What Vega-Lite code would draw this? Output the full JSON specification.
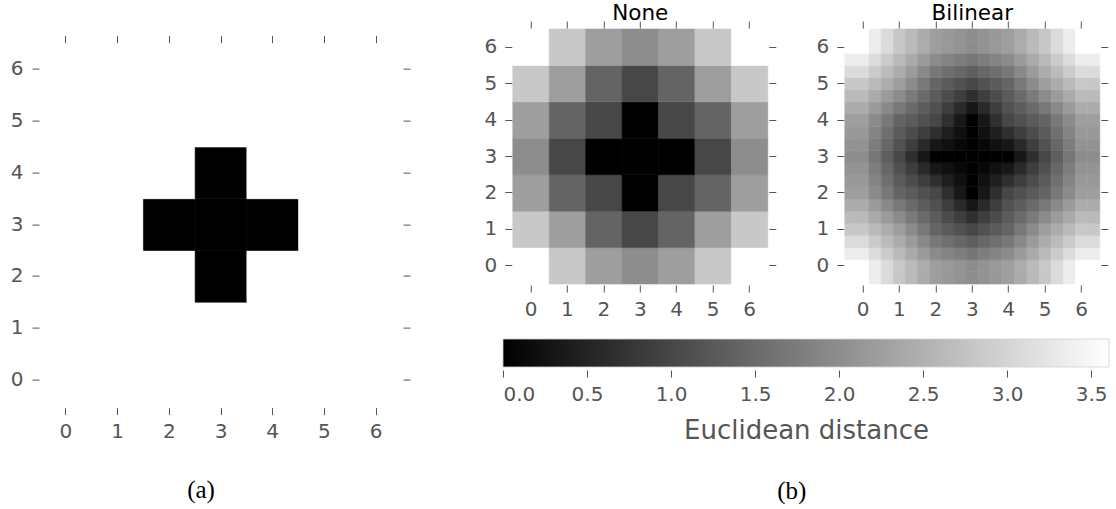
{
"$schema": "https://vega.github.io/schema/vega-lite/v6.json",
"padding": {"left": 10, "top": 3, "right": 0, "bottom": 0},
"datasets": {
"grid": [
{"x":0,"y":0,"on":0,"d":3.606},{"x":1,"y":0,"on":0,"d":2.828},{"x":2,"y":0,"on":0,"d":2.236},{"x":3,"y":0,"on":0,"d":2},{"x":4,"y":0,"on":0,"d":2.236},{"x":5,"y":0,"on":0,"d":2.828},{"x":6,"y":0,"on":0,"d":3.606},
{"x":0,"y":1,"on":0,"d":2.828},{"x":1,"y":1,"on":0,"d":2.236},{"x":2,"y":1,"on":0,"d":1.414},{"x":3,"y":1,"on":0,"d":1},{"x":4,"y":1,"on":0,"d":1.414},{"x":5,"y":1,"on":0,"d":2.236},{"x":6,"y":1,"on":0,"d":2.828},
{"x":0,"y":2,"on":0,"d":2.236},{"x":1,"y":2,"on":0,"d":1.414},{"x":2,"y":2,"on":0,"d":1},{"x":3,"y":2,"on":1,"d":0},{"x":4,"y":2,"on":0,"d":1},{"x":5,"y":2,"on":0,"d":1.414},{"x":6,"y":2,"on":0,"d":2.236},
{"x":0,"y":3,"on":0,"d":2},{"x":1,"y":3,"on":0,"d":1},{"x":2,"y":3,"on":1,"d":0},{"x":3,"y":3,"on":1,"d":0},{"x":4,"y":3,"on":1,"d":0},{"x":5,"y":3,"on":0,"d":1},{"x":6,"y":3,"on":0,"d":2},
{"x":0,"y":4,"on":0,"d":2.236},{"x":1,"y":4,"on":0,"d":1.414},{"x":2,"y":4,"on":0,"d":1},{"x":3,"y":4,"on":1,"d":0},{"x":4,"y":4,"on":0,"d":1},{"x":5,"y":4,"on":0,"d":1.414},{"x":6,"y":4,"on":0,"d":2.236},
{"x":0,"y":5,"on":0,"d":2.828},{"x":1,"y":5,"on":0,"d":2.236},{"x":2,"y":5,"on":0,"d":1.414},{"x":3,"y":5,"on":0,"d":1},{"x":4,"y":5,"on":0,"d":1.414},{"x":5,"y":5,"on":0,"d":2.236},{"x":6,"y":5,"on":0,"d":2.828},
{"x":0,"y":6,"on":0,"d":3.606},{"x":1,"y":6,"on":0,"d":2.828},{"x":2,"y":6,"on":0,"d":2.236},{"x":3,"y":6,"on":0,"d":2},{"x":4,"y":6,"on":0,"d":2.236},{"x":5,"y":6,"on":0,"d":2.828},{"x":6,"y":6,"on":0,"d":3.606}
],
"colorbar": [{"lo": 0, "hi": 3.606}],
"bilinear": [
{"x":-0.33,"y":-0.33,"d":3.61},{"x":0,"y":-0.33,"d":3.61},{"x":0.33,"y":-0.33,"d":3.35},{"x":0.67,"y":-0.33,"d":3.09},{"x":1,"y":-0.33,"d":2.83},{"x":1.33,"y":-0.33,"d":2.63},{"x":1.67,"y":-0.33,"d":2.43},{"x":2,"y":-0.33,"d":2.24},{"x":2.33,"y":-0.33,"d":2.16},{"x":2.67,"y":-0.33,"d":2.08},{"x":3,"y":-0.33,"d":2},{"x":3.33,"y":-0.33,"d":2.08},{"x":3.67,"y":-0.33,"d":2.16},{"x":4,"y":-0.33,"d":2.24},{"x":4.33,"y":-0.33,"d":2.43},{"x":4.67,"y":-0.33,"d":2.63},{"x":5,"y":-0.33,"d":2.83},{"x":5.33,"y":-0.33,"d":3.09},{"x":5.67,"y":-0.33,"d":3.35},{"x":6,"y":-0.33,"d":3.61},{"x":6.33,"y":-0.33,"d":3.61},
{"x":-0.33,"y":0,"d":3.61},{"x":0,"y":0,"d":3.61},{"x":0.33,"y":0,"d":3.35},{"x":0.67,"y":0,"d":3.09},{"x":1,"y":0,"d":2.83},{"x":1.33,"y":0,"d":2.63},{"x":1.67,"y":0,"d":2.43},{"x":2,"y":0,"d":2.24},{"x":2.33,"y":0,"d":2.16},{"x":2.67,"y":0,"d":2.08},{"x":3,"y":0,"d":2},{"x":3.33,"y":0,"d":2.08},{"x":3.67,"y":0,"d":2.16},{"x":4,"y":0,"d":2.24},{"x":4.33,"y":0,"d":2.43},{"x":4.67,"y":0,"d":2.63},{"x":5,"y":0,"d":2.83},{"x":5.33,"y":0,"d":3.09},{"x":5.67,"y":0,"d":3.35},{"x":6,"y":0,"d":3.61},{"x":6.33,"y":0,"d":3.61},
{"x":-0.33,"y":0.33,"d":3.35},{"x":0,"y":0.33,"d":3.35},{"x":0.33,"y":0.33,"d":3.11},{"x":0.67,"y":0.33,"d":2.87},{"x":1,"y":0.33,"d":2.63},{"x":1.33,"y":0.33,"d":2.41},{"x":1.67,"y":0.33,"d":2.19},{"x":2,"y":0.33,"d":1.96},{"x":2.33,"y":0.33,"d":1.86},{"x":2.67,"y":0.33,"d":1.77},{"x":3,"y":0.33,"d":1.67},{"x":3.33,"y":0.33,"d":1.77},{"x":3.67,"y":0.33,"d":1.86},{"x":4,"y":0.33,"d":1.96},{"x":4.33,"y":0.33,"d":2.19},{"x":4.67,"y":0.33,"d":2.41},{"x":5,"y":0.33,"d":2.63},{"x":5.33,"y":0.33,"d":2.87},{"x":5.67,"y":0.33,"d":3.11},{"x":6,"y":0.33,"d":3.35},{"x":6.33,"y":0.33,"d":3.35},
{"x":-0.33,"y":0.67,"d":3.09},{"x":0,"y":0.67,"d":3.09},{"x":0.33,"y":0.67,"d":2.87},{"x":0.67,"y":0.67,"d":2.65},{"x":1,"y":0.67,"d":2.43},{"x":1.33,"y":0.67,"d":2.19},{"x":1.67,"y":0.67,"d":1.94},{"x":2,"y":0.67,"d":1.69},{"x":2.33,"y":0.67,"d":1.57},{"x":2.67,"y":0.67,"d":1.45},{"x":3,"y":0.67,"d":1.33},{"x":3.33,"y":0.67,"d":1.45},{"x":3.67,"y":0.67,"d":1.57},{"x":4,"y":0.67,"d":1.69},{"x":4.33,"y":0.67,"d":1.94},{"x":4.67,"y":0.67,"d":2.19},{"x":5,"y":0.67,"d":2.43},{"x":5.33,"y":0.67,"d":2.65},{"x":5.67,"y":0.67,"d":2.87},{"x":6,"y":0.67,"d":3.09},{"x":6.33,"y":0.67,"d":3.09},
{"x":-0.33,"y":1,"d":2.83},{"x":0,"y":1,"d":2.83},{"x":0.33,"y":1,"d":2.63},{"x":0.67,"y":1,"d":2.43},{"x":1,"y":1,"d":2.24},{"x":1.33,"y":1,"d":1.96},{"x":1.67,"y":1,"d":1.69},{"x":2,"y":1,"d":1.41},{"x":2.33,"y":1,"d":1.28},{"x":2.67,"y":1,"d":1.14},{"x":3,"y":1,"d":1},{"x":3.33,"y":1,"d":1.14},{"x":3.67,"y":1,"d":1.28},{"x":4,"y":1,"d":1.41},{"x":4.33,"y":1,"d":1.69},{"x":4.67,"y":1,"d":1.96},{"x":5,"y":1,"d":2.24},{"x":5.33,"y":1,"d":2.43},{"x":5.67,"y":1,"d":2.63},{"x":6,"y":1,"d":2.83},{"x":6.33,"y":1,"d":2.83},
{"x":-0.33,"y":1.33,"d":2.63},{"x":0,"y":1.33,"d":2.63},{"x":0.33,"y":1.33,"d":2.41},{"x":0.67,"y":1.33,"d":2.19},{"x":1,"y":1.33,"d":1.96},{"x":1.33,"y":1.33,"d":1.73},{"x":1.67,"y":1.33,"d":1.5},{"x":2,"y":1.33,"d":1.28},{"x":2.33,"y":1.33,"d":1.07},{"x":2.67,"y":1.33,"d":0.87},{"x":3,"y":1.33,"d":0.67},{"x":3.33,"y":1.33,"d":0.87},{"x":3.67,"y":1.33,"d":1.07},{"x":4,"y":1.33,"d":1.28},{"x":4.33,"y":1.33,"d":1.5},{"x":4.67,"y":1.33,"d":1.73},{"x":5,"y":1.33,"d":1.96},{"x":5.33,"y":1.33,"d":2.19},{"x":5.67,"y":1.33,"d":2.41},{"x":6,"y":1.33,"d":2.63},{"x":6.33,"y":1.33,"d":2.63},
{"x":-0.33,"y":1.67,"d":2.43},{"x":0,"y":1.67,"d":2.43},{"x":0.33,"y":1.67,"d":2.19},{"x":0.67,"y":1.67,"d":1.94},{"x":1,"y":1.67,"d":1.69},{"x":1.33,"y":1.67,"d":1.5},{"x":1.67,"y":1.67,"d":1.32},{"x":2,"y":1.67,"d":1.14},{"x":2.33,"y":1.67,"d":0.87},{"x":2.67,"y":1.67,"d":0.6},{"x":3,"y":1.67,"d":0.33},{"x":3.33,"y":1.67,"d":0.6},{"x":3.67,"y":1.67,"d":0.87},{"x":4,"y":1.67,"d":1.14},{"x":4.33,"y":1.67,"d":1.32},{"x":4.67,"y":1.67,"d":1.5},{"x":5,"y":1.67,"d":1.69},{"x":5.33,"y":1.67,"d":1.94},{"x":5.67,"y":1.67,"d":2.19},{"x":6,"y":1.67,"d":2.43},{"x":6.33,"y":1.67,"d":2.43},
{"x":-0.33,"y":2,"d":2.24},{"x":0,"y":2,"d":2.24},{"x":0.33,"y":2,"d":1.96},{"x":0.67,"y":2,"d":1.69},{"x":1,"y":2,"d":1.41},{"x":1.33,"y":2,"d":1.28},{"x":1.67,"y":2,"d":1.14},{"x":2,"y":2,"d":1},{"x":2.33,"y":2,"d":0.67},{"x":2.67,"y":2,"d":0.33},{"x":3,"y":2,"d":0},{"x":3.33,"y":2,"d":0.33},{"x":3.67,"y":2,"d":0.67},{"x":4,"y":2,"d":1},{"x":4.33,"y":2,"d":1.14},{"x":4.67,"y":2,"d":1.28},{"x":5,"y":2,"d":1.41},{"x":5.33,"y":2,"d":1.69},{"x":5.67,"y":2,"d":1.96},{"x":6,"y":2,"d":2.24},{"x":6.33,"y":2,"d":2.24},
{"x":-0.33,"y":2.33,"d":2.16},{"x":0,"y":2.33,"d":2.16},{"x":0.33,"y":2.33,"d":1.86},{"x":0.67,"y":2.33,"d":1.57},{"x":1,"y":2.33,"d":1.28},{"x":1.33,"y":2.33,"d":1.07},{"x":1.67,"y":2.33,"d":0.87},{"x":2,"y":2.33,"d":0.67},{"x":2.33,"y":2.33,"d":0.44},{"x":2.67,"y":2.33,"d":0.22},{"x":3,"y":2.33,"d":0},{"x":3.33,"y":2.33,"d":0.22},{"x":3.67,"y":2.33,"d":0.44},{"x":4,"y":2.33,"d":0.67},{"x":4.33,"y":2.33,"d":0.87},{"x":4.67,"y":2.33,"d":1.07},{"x":5,"y":2.33,"d":1.28},{"x":5.33,"y":2.33,"d":1.57},{"x":5.67,"y":2.33,"d":1.86},{"x":6,"y":2.33,"d":2.16},{"x":6.33,"y":2.33,"d":2.16},
{"x":-0.33,"y":2.67,"d":2.08},{"x":0,"y":2.67,"d":2.08},{"x":0.33,"y":2.67,"d":1.77},{"x":0.67,"y":2.67,"d":1.45},{"x":1,"y":2.67,"d":1.14},{"x":1.33,"y":2.67,"d":0.87},{"x":1.67,"y":2.67,"d":0.6},{"x":2,"y":2.67,"d":0.33},{"x":2.33,"y":2.67,"d":0.22},{"x":2.67,"y":2.67,"d":0.11},{"x":3,"y":2.67,"d":0},{"x":3.33,"y":2.67,"d":0.11},{"x":3.67,"y":2.67,"d":0.22},{"x":4,"y":2.67,"d":0.33},{"x":4.33,"y":2.67,"d":0.6},{"x":4.67,"y":2.67,"d":0.87},{"x":5,"y":2.67,"d":1.14},{"x":5.33,"y":2.67,"d":1.45},{"x":5.67,"y":2.67,"d":1.77},{"x":6,"y":2.67,"d":2.08},{"x":6.33,"y":2.67,"d":2.08},
{"x":-0.33,"y":3,"d":2},{"x":0,"y":3,"d":2},{"x":0.33,"y":3,"d":1.67},{"x":0.67,"y":3,"d":1.33},{"x":1,"y":3,"d":1},{"x":1.33,"y":3,"d":0.67},{"x":1.67,"y":3,"d":0.33},{"x":2,"y":3,"d":0},{"x":2.33,"y":3,"d":0},{"x":2.67,"y":3,"d":0},{"x":3,"y":3,"d":0},{"x":3.33,"y":3,"d":0},{"x":3.67,"y":3,"d":0},{"x":4,"y":3,"d":0},{"x":4.33,"y":3,"d":0.33},{"x":4.67,"y":3,"d":0.67},{"x":5,"y":3,"d":1},{"x":5.33,"y":3,"d":1.33},{"x":5.67,"y":3,"d":1.67},{"x":6,"y":3,"d":2},{"x":6.33,"y":3,"d":2},
{"x":-0.33,"y":3.33,"d":2.08},{"x":0,"y":3.33,"d":2.08},{"x":0.33,"y":3.33,"d":1.77},{"x":0.67,"y":3.33,"d":1.45},{"x":1,"y":3.33,"d":1.14},{"x":1.33,"y":3.33,"d":0.87},{"x":1.67,"y":3.33,"d":0.6},{"x":2,"y":3.33,"d":0.33},{"x":2.33,"y":3.33,"d":0.22},{"x":2.67,"y":3.33,"d":0.11},{"x":3,"y":3.33,"d":0},{"x":3.33,"y":3.33,"d":0.11},{"x":3.67,"y":3.33,"d":0.22},{"x":4,"y":3.33,"d":0.33},{"x":4.33,"y":3.33,"d":0.6},{"x":4.67,"y":3.33,"d":0.87},{"x":5,"y":3.33,"d":1.14},{"x":5.33,"y":3.33,"d":1.45},{"x":5.67,"y":3.33,"d":1.77},{"x":6,"y":3.33,"d":2.08},{"x":6.33,"y":3.33,"d":2.08},
{"x":-0.33,"y":3.67,"d":2.16},{"x":0,"y":3.67,"d":2.16},{"x":0.33,"y":3.67,"d":1.86},{"x":0.67,"y":3.67,"d":1.57},{"x":1,"y":3.67,"d":1.28},{"x":1.33,"y":3.67,"d":1.07},{"x":1.67,"y":3.67,"d":0.87},{"x":2,"y":3.67,"d":0.67},{"x":2.33,"y":3.67,"d":0.44},{"x":2.67,"y":3.67,"d":0.22},{"x":3,"y":3.67,"d":0},{"x":3.33,"y":3.67,"d":0.22},{"x":3.67,"y":3.67,"d":0.44},{"x":4,"y":3.67,"d":0.67},{"x":4.33,"y":3.67,"d":0.87},{"x":4.67,"y":3.67,"d":1.07},{"x":5,"y":3.67,"d":1.28},{"x":5.33,"y":3.67,"d":1.57},{"x":5.67,"y":3.67,"d":1.86},{"x":6,"y":3.67,"d":2.16},{"x":6.33,"y":3.67,"d":2.16},
{"x":-0.33,"y":4,"d":2.24},{"x":0,"y":4,"d":2.24},{"x":0.33,"y":4,"d":1.96},{"x":0.67,"y":4,"d":1.69},{"x":1,"y":4,"d":1.41},{"x":1.33,"y":4,"d":1.28},{"x":1.67,"y":4,"d":1.14},{"x":2,"y":4,"d":1},{"x":2.33,"y":4,"d":0.67},{"x":2.67,"y":4,"d":0.33},{"x":3,"y":4,"d":0},{"x":3.33,"y":4,"d":0.33},{"x":3.67,"y":4,"d":0.67},{"x":4,"y":4,"d":1},{"x":4.33,"y":4,"d":1.14},{"x":4.67,"y":4,"d":1.28},{"x":5,"y":4,"d":1.41},{"x":5.33,"y":4,"d":1.69},{"x":5.67,"y":4,"d":1.96},{"x":6,"y":4,"d":2.24},{"x":6.33,"y":4,"d":2.24},
{"x":-0.33,"y":4.33,"d":2.43},{"x":0,"y":4.33,"d":2.43},{"x":0.33,"y":4.33,"d":2.19},{"x":0.67,"y":4.33,"d":1.94},{"x":1,"y":4.33,"d":1.69},{"x":1.33,"y":4.33,"d":1.5},{"x":1.67,"y":4.33,"d":1.32},{"x":2,"y":4.33,"d":1.14},{"x":2.33,"y":4.33,"d":0.87},{"x":2.67,"y":4.33,"d":0.6},{"x":3,"y":4.33,"d":0.33},{"x":3.33,"y":4.33,"d":0.6},{"x":3.67,"y":4.33,"d":0.87},{"x":4,"y":4.33,"d":1.14},{"x":4.33,"y":4.33,"d":1.32},{"x":4.67,"y":4.33,"d":1.5},{"x":5,"y":4.33,"d":1.69},{"x":5.33,"y":4.33,"d":1.94},{"x":5.67,"y":4.33,"d":2.19},{"x":6,"y":4.33,"d":2.43},{"x":6.33,"y":4.33,"d":2.43},
{"x":-0.33,"y":4.67,"d":2.63},{"x":0,"y":4.67,"d":2.63},{"x":0.33,"y":4.67,"d":2.41},{"x":0.67,"y":4.67,"d":2.19},{"x":1,"y":4.67,"d":1.96},{"x":1.33,"y":4.67,"d":1.73},{"x":1.67,"y":4.67,"d":1.5},{"x":2,"y":4.67,"d":1.28},{"x":2.33,"y":4.67,"d":1.07},{"x":2.67,"y":4.67,"d":0.87},{"x":3,"y":4.67,"d":0.67},{"x":3.33,"y":4.67,"d":0.87},{"x":3.67,"y":4.67,"d":1.07},{"x":4,"y":4.67,"d":1.28},{"x":4.33,"y":4.67,"d":1.5},{"x":4.67,"y":4.67,"d":1.73},{"x":5,"y":4.67,"d":1.96},{"x":5.33,"y":4.67,"d":2.19},{"x":5.67,"y":4.67,"d":2.41},{"x":6,"y":4.67,"d":2.63},{"x":6.33,"y":4.67,"d":2.63},
{"x":-0.33,"y":5,"d":2.83},{"x":0,"y":5,"d":2.83},{"x":0.33,"y":5,"d":2.63},{"x":0.67,"y":5,"d":2.43},{"x":1,"y":5,"d":2.24},{"x":1.33,"y":5,"d":1.96},{"x":1.67,"y":5,"d":1.69},{"x":2,"y":5,"d":1.41},{"x":2.33,"y":5,"d":1.28},{"x":2.67,"y":5,"d":1.14},{"x":3,"y":5,"d":1},{"x":3.33,"y":5,"d":1.14},{"x":3.67,"y":5,"d":1.28},{"x":4,"y":5,"d":1.41},{"x":4.33,"y":5,"d":1.69},{"x":4.67,"y":5,"d":1.96},{"x":5,"y":5,"d":2.24},{"x":5.33,"y":5,"d":2.43},{"x":5.67,"y":5,"d":2.63},{"x":6,"y":5,"d":2.83},{"x":6.33,"y":5,"d":2.83},
{"x":-0.33,"y":5.33,"d":3.09},{"x":0,"y":5.33,"d":3.09},{"x":0.33,"y":5.33,"d":2.87},{"x":0.67,"y":5.33,"d":2.65},{"x":1,"y":5.33,"d":2.43},{"x":1.33,"y":5.33,"d":2.19},{"x":1.67,"y":5.33,"d":1.94},{"x":2,"y":5.33,"d":1.69},{"x":2.33,"y":5.33,"d":1.57},{"x":2.67,"y":5.33,"d":1.45},{"x":3,"y":5.33,"d":1.33},{"x":3.33,"y":5.33,"d":1.45},{"x":3.67,"y":5.33,"d":1.57},{"x":4,"y":5.33,"d":1.69},{"x":4.33,"y":5.33,"d":1.94},{"x":4.67,"y":5.33,"d":2.19},{"x":5,"y":5.33,"d":2.43},{"x":5.33,"y":5.33,"d":2.65},{"x":5.67,"y":5.33,"d":2.87},{"x":6,"y":5.33,"d":3.09},{"x":6.33,"y":5.33,"d":3.09},
{"x":-0.33,"y":5.67,"d":3.35},{"x":0,"y":5.67,"d":3.35},{"x":0.33,"y":5.67,"d":3.11},{"x":0.67,"y":5.67,"d":2.87},{"x":1,"y":5.67,"d":2.63},{"x":1.33,"y":5.67,"d":2.41},{"x":1.67,"y":5.67,"d":2.19},{"x":2,"y":5.67,"d":1.96},{"x":2.33,"y":5.67,"d":1.86},{"x":2.67,"y":5.67,"d":1.77},{"x":3,"y":5.67,"d":1.67},{"x":3.33,"y":5.67,"d":1.77},{"x":3.67,"y":5.67,"d":1.86},{"x":4,"y":5.67,"d":1.96},{"x":4.33,"y":5.67,"d":2.19},{"x":4.67,"y":5.67,"d":2.41},{"x":5,"y":5.67,"d":2.63},{"x":5.33,"y":5.67,"d":2.87},{"x":5.67,"y":5.67,"d":3.11},{"x":6,"y":5.67,"d":3.35},{"x":6.33,"y":5.67,"d":3.35},
{"x":-0.33,"y":6,"d":3.61},{"x":0,"y":6,"d":3.61},{"x":0.33,"y":6,"d":3.35},{"x":0.67,"y":6,"d":3.09},{"x":1,"y":6,"d":2.83},{"x":1.33,"y":6,"d":2.63},{"x":1.67,"y":6,"d":2.43},{"x":2,"y":6,"d":2.24},{"x":2.33,"y":6,"d":2.16},{"x":2.67,"y":6,"d":2.08},{"x":3,"y":6,"d":2},{"x":3.33,"y":6,"d":2.08},{"x":3.67,"y":6,"d":2.16},{"x":4,"y":6,"d":2.24},{"x":4.33,"y":6,"d":2.43},{"x":4.67,"y":6,"d":2.63},{"x":5,"y":6,"d":2.83},{"x":5.33,"y":6,"d":3.09},{"x":5.67,"y":6,"d":3.35},{"x":6,"y":6,"d":3.61},{"x":6.33,"y":6,"d":3.61},
{"x":-0.33,"y":6.33,"d":3.61},{"x":0,"y":6.33,"d":3.61},{"x":0.33,"y":6.33,"d":3.35},{"x":0.67,"y":6.33,"d":3.09},{"x":1,"y":6.33,"d":2.83},{"x":1.33,"y":6.33,"d":2.63},{"x":1.67,"y":6.33,"d":2.43},{"x":2,"y":6.33,"d":2.24},{"x":2.33,"y":6.33,"d":2.16},{"x":2.67,"y":6.33,"d":2.08},{"x":3,"y":6.33,"d":2},{"x":3.33,"y":6.33,"d":2.08},{"x":3.67,"y":6.33,"d":2.16},{"x":4,"y":6.33,"d":2.24},{"x":4.33,"y":6.33,"d":2.43},{"x":4.67,"y":6.33,"d":2.63},{"x":5,"y":6.33,"d":2.83},{"x":5.33,"y":6.33,"d":3.09},{"x":5.67,"y":6.33,"d":3.35},{"x":6,"y":6.33,"d":3.61},{"x":6.33,"y":6.33,"d":3.61}
]
},
"align": "none",
"hconcat": [
{
"spacing": 4.6,
"vconcat": [
{"width": 1, "height": 1, "data": {"name": "colorbar"}, "mark": {"type": "rect", "opacity": 0}, "encoding": {}},
{
"width": 362, "height": 362,
"data": {"name": "grid"},
"title": {"text": "(a)", "orient": "bottom", "anchor": "middle", "font": "Liberation Serif", "fontSize": 25, "color": "#000000", "offset": 36, "dx": -20, "baseline": "top"},
"layer": [
{"mark": {"type": "rect", "strokeWidth": 0.6},
"encoding": {
"x": {"field": "x", "type": "ordinal", "axis": {"orient": "bottom", "title": null, "offset": 2, "labelPadding": 7}},
"y": {"field": "y", "type": "ordinal", "sort": "descending", "axis": {"orient": "left", "title": null, "offset": 1, "labelPadding": 9}},
"color": {"field": "on", "type": "nominal", "scale": {"domain": [0, 1], "range": ["#ffffff", "#000000"]}, "legend": null},
"stroke": {"field": "on", "type": "nominal", "scale": {"domain": [0, 1], "range": ["#ffffff", "#000000"]}, "legend": null}
}},
{"mark": {"type": "rect", "opacity": 0},
"encoding": {
"x": {"field": "x", "type": "ordinal", "axis": {"orient": "top", "labels": false, "title": null, "offset": 1}},
"y": {"field": "y", "type": "ordinal", "sort": "descending", "axis": {"orient": "right", "labels": false, "title": null, "offset": 1}}
}}
],
"resolve": {"axis": {"x": "independent", "y": "independent"}}
}
]
},
{
"vconcat": [
{"bounds": "flush", "spacing": 8.8, "hconcat": [
{"width": 1, "height": 1, "data": {"name": "colorbar"}, "mark": {"type": "rect", "opacity": 0}, "encoding": {}},
{"spacing": 39, "hconcat": [
{
"width": 255, "height": 255,
"data": {"name": "grid"},
"title": {"text": "None"},
"layer": [
{"mark": {"type": "rect", "strokeWidth": 0.6},
"encoding": {
"x": {"field": "x", "type": "ordinal", "axis": {"orient": "bottom", "title": null, "offset": 1, "labelPadding": 7}},
"y": {"field": "y", "type": "ordinal", "sort": "descending", "axis": {"orient": "left", "title": null, "offset": 1, "labelPadding": 8}},
"color": {"field": "d", "type": "quantitative", "scale": {"domain": [0, 3.606], "range": ["#000000", "#ffffff"], "interpolate": "rgb"}, "legend": null},
"stroke": {"field": "d", "type": "quantitative", "scale": {"domain": [0, 3.606], "range": ["#000000", "#ffffff"], "interpolate": "rgb"}, "legend": null}
}},
{"mark": {"type": "rect", "opacity": 0},
"encoding": {
"x": {"field": "x", "type": "ordinal", "axis": {"orient": "top", "labels": false, "title": null, "offset": 1}},
"y": {"field": "y", "type": "ordinal", "sort": "descending", "axis": {"orient": "right", "labels": false, "title": null, "offset": 1}}
}}
],
"resolve": {"axis": {"x": "independent", "y": "independent"}}
},
{
"width": 255, "height": 255,
"data": {"name": "bilinear"},
"title": {"text": "Bilinear"},
"layer": [
{"mark": {"type": "rect", "strokeWidth": 0.6},
"encoding": {
"x": {"field": "x", "type": "ordinal", "axis": {"orient": "bottom", "title": null, "offset": 1, "labelPadding": 7, "values": [0, 1, 2, 3, 4, 5, 6]}},
"y": {"field": "y", "type": "ordinal", "sort": "descending", "axis": {"orient": "left", "title": null, "offset": 1, "labelPadding": 8, "values": [0, 1, 2, 3, 4, 5, 6]}},
"color": {"field": "d", "type": "quantitative", "scale": {"domain": [0, 3.606], "range": ["#000000", "#ffffff"], "interpolate": "rgb"}, "legend": null},
"stroke": {"field": "d", "type": "quantitative", "scale": {"domain": [0, 3.606], "range": ["#000000", "#ffffff"], "interpolate": "rgb"}, "legend": null}
}},
{"mark": {"type": "rect", "opacity": 0},
"encoding": {
"x": {"field": "x", "type": "ordinal", "axis": {"orient": "top", "labels": false, "title": null, "offset": 1, "values": [0, 1, 2, 3, 4, 5, 6]}},
"y": {"field": "y", "type": "ordinal", "sort": "descending", "axis": {"orient": "right", "labels": false, "title": null, "offset": 1, "values": [0, 1, 2, 3, 4, 5, 6]}}
}}
],
"resolve": {"axis": {"x": "independent", "y": "independent"}}
}
]}
]},
{
"width": 606, "height": 28,
"data": {"name": "colorbar"},
"mark": {"type": "rect", "color": {"gradient": "linear", "x1": 0, "y1": 0, "x2": 1, "y2": 0, "stops": [{"offset": 0, "color": "#000000"}, {"offset": 1, "color": "#ffffff"}]}, "stroke": "#d0d0d0", "strokeWidth": 0.8},
"encoding": {
"x": {"field": "lo", "type": "quantitative", "scale": {"domain": [0, 3.606], "nice": false, "zero": false}, "axis": {"title": "Euclidean distance", "values": [0, 0.5, 1, 1.5, 2, 2.5, 3, 3.5], "format": ".1f", "offset": 3, "labelPadding": 7, "titleFontSize": 26, "titlePadding": 13.5}},
"x2": {"field": "hi"}
}
}
],
"spacing": 19,
"title": {"text": "(b)", "orient": "bottom", "anchor": "middle", "font": "Liberation Serif", "fontSize": 25, "color": "#000000", "offset": 35, "dx": -5, "baseline": "top"}
}
],
"spacing": 73,
"resolve": {"scale": {"color": "independent", "stroke": "independent"}},
"config": {
"view": {"stroke": null},
"axis": {"domain": false, "grid": false, "tickColor": "#555555", "tickSize": 7, "tickWidth": 1, "labelColor": "#555555", "labelFont": "DejaVu Sans", "labelFontSize": 20, "labelAngle": 0, "titleFont": "DejaVu Sans", "titleFontWeight": "normal", "titleColor": "#555555"},
"title": {"font": "DejaVu Sans", "fontSize": 21.5, "fontWeight": "normal", "color": "#000000", "offset": -4, "baseline": "alphabetic"}
}
}
